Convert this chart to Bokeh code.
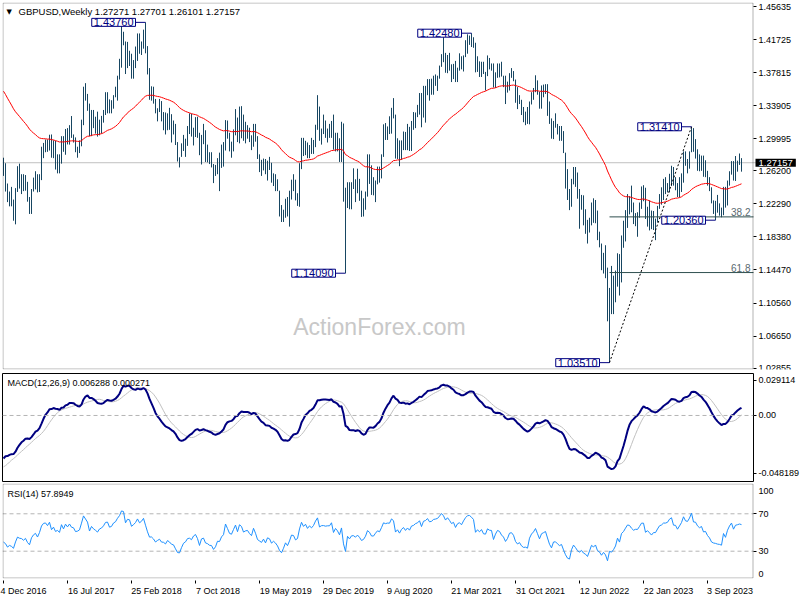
import numpy as np
import pandas as pd
from bokeh.plotting import figure
from bokeh.layouts import column
from bokeh.models import (Range1d, FixedTicker, Label, Span, ColumnDataSource, LinearAxis,
                          BoxAnnotation, AllLabels)
from bokeh.embed import file_html
from bokeh.resources import INLINE

# ---------------- data ----------------
# weekly closes before the visible window (used only to warm up indicators)
HIST_CLOSE_2015 = [1.5160, 1.5160, 1.4990, 1.5030,
                   1.5325, 1.5395, 1.5480, 1.5430,
                   1.5060, 1.4850, 1.4975, 1.4915, 1.4870,
                   1.4640, 1.4955, 1.5185, 1.5165,
                   1.5460, 1.5700, 1.5465, 1.5280,
                   1.5325, 1.5570, 1.5880, 1.5745,
                   1.5605, 1.5510, 1.5640, 1.5510, 1.5605,
                   1.5505, 1.5640, 1.5700, 1.5410,
                   1.5250, 1.5435, 1.5535, 1.5310, 1.5180,
                   1.5310, 1.5440, 1.5440, 1.5275, 1.5425,
                   1.5060, 1.5230, 1.5190, 1.5040,
                   1.5105, 1.4910, 1.4895, 1.4735]
HIST_CLOSE_2016 = [1.4600, 1.4260, 1.4265, 1.4250, 1.4500,
                   1.4500, 1.4400, 1.3880, 1.4235,
                   1.4235, 1.4460, 1.4140, 1.4365,
                   1.4120, 1.4205, 1.4395, 1.4615,
                   1.4430, 1.4375, 1.4500, 1.4660, 1.4390,
                   1.4255, 1.4385, 1.3680, 1.3275,
                   1.2950, 1.3220, 1.3105, 1.3225, 1.3070,
                   1.2960, 1.3075, 1.3165, 1.3310,
                   1.3270, 1.3070, 1.2970, 1.2965,
                   1.2430, 1.2195, 1.2200, 1.2190, 1.2485,
                   1.2590, 1.2385, 1.2420, 1.2580]

# visible weekly bars (high, low, close), first week starts 4 Dec 2016
BARS_2016 = [(1.2775, 1.2560, 1.2575), (1.2710, 1.2375, 1.2490), (1.2470, 1.2250, 1.2285),
             (1.2375, 1.2200, 1.2340)]
BARS_2017 = [(1.2430, 1.2200, 1.2284), (1.2280, 1.2030, 1.2175), (1.2415, 1.1987, 1.2375),
             (1.2675, 1.2370, 1.2545), (1.2705, 1.2410, 1.2495), (1.2580, 1.2345, 1.2480),
             (1.2580, 1.2380, 1.2410), (1.2570, 1.2385, 1.2465), (1.2490, 1.2255, 1.2295),
             (1.2310, 1.2110, 1.2190), (1.2405, 1.2110, 1.2400), (1.2540, 1.2375, 1.2500),
             (1.2615, 1.2400, 1.2550), (1.2580, 1.2365, 1.2415), (1.2580, 1.2370, 1.2565),
             (1.2905, 1.2510, 1.2825), (1.2950, 1.2770, 1.2945), (1.2990, 1.2840, 1.2965),
             (1.2990, 1.2845, 1.2885), (1.3047, 1.2860, 1.3030), (1.3050, 1.2775, 1.2790),
             (1.2980, 1.2770, 1.2895), (1.2975, 1.2635, 1.2745), (1.2815, 1.2590, 1.2785),
             (1.2815, 1.2590, 1.2715), (1.3030, 1.2705, 1.3025), (1.3030, 1.2845, 1.2880),
             (1.3115, 1.2810, 1.3095), (1.3125, 1.2932, 1.3000), (1.3160, 1.2930, 1.3135),
             (1.3268, 1.3010, 1.3025), (1.3050, 1.2955, 1.3005), (1.3015, 1.2840, 1.2875),
             (1.2905, 1.2775, 1.2890), (1.2980, 1.2830, 1.2935), (1.3225, 1.2910, 1.3200),
             (1.3615, 1.3160, 1.3590), (1.3657, 1.3450, 1.3495), (1.3530, 1.3330, 1.3395),
             (1.3415, 1.3030, 1.3065), (1.3340, 1.3030, 1.3285), (1.3340, 1.3125, 1.3190),
             (1.3260, 1.3060, 1.3130), (1.3320, 1.3025, 1.3060), (1.3225, 1.3040, 1.3190),
             (1.3270, 1.3060, 1.3230), (1.3340, 1.3190, 1.3325), (1.3550, 1.3280, 1.3480),
             (1.3550, 1.3300, 1.3495), (1.3465, 1.3300, 1.3340), (1.3455, 1.3300, 1.3370),
             (1.3515, 1.3355, 1.3510), (1.3615, 1.3490, 1.3565)]
BARS_2018 = [(1.3745, 1.3450, 1.3725), (1.3945, 1.3700, 1.3860), (1.4345, 1.3840, 1.4150),
             (1.4265, 1.4105, 1.4135), (1.4150, 1.3765, 1.3815), (1.4145, 1.3835, 1.4000),
             (1.4040, 1.3860, 1.3985), (1.4005, 1.3710, 1.3775), (1.3930, 1.3710, 1.3850),
             (1.4090, 1.3835, 1.3950), (1.4245, 1.3920, 1.4135), (1.4245, 1.4005, 1.4015),
             (1.4150, 1.3990, 1.4090), (1.4290, 1.4065, 1.4240), (1.4376, 1.4010, 1.4025),
             (1.4095, 1.3760, 1.3775), (1.3835, 1.3460, 1.3540), (1.3620, 1.3450, 1.3545),
             (1.3615, 1.3415, 1.3455), (1.3470, 1.3300, 1.3310), (1.3360, 1.3205, 1.3360),
             (1.3470, 1.3315, 1.3400), (1.3445, 1.3205, 1.3275), (1.3315, 1.3100, 1.3265),
             (1.3310, 1.3050, 1.3195), (1.3300, 1.3100, 1.3285), (1.3365, 1.3105, 1.3230),
             (1.3290, 1.2955, 1.3140), (1.3215, 1.3050, 1.3115), (1.3175, 1.2925, 1.2945),
             (1.2960, 1.2730, 1.2755), (1.2780, 1.2660, 1.2735), (1.2945, 1.2785, 1.2850),
             (1.3045, 1.2855, 1.2955), (1.3000, 1.2785, 1.2990), (1.3150, 1.2915, 1.3070),
             (1.3300, 1.3055, 1.3080), (1.3295, 1.3025, 1.3035), (1.3130, 1.2920, 1.3120),
             (1.3255, 1.3020, 1.3155), (1.3260, 1.3010, 1.3045), (1.3070, 1.2805, 1.2815),
             (1.3045, 1.2695, 1.2970), (1.3175, 1.2935, 1.2990), (1.3100, 1.2725, 1.2825),
             (1.2930, 1.2720, 1.2800), (1.2840, 1.2700, 1.2740), (1.2840, 1.2660, 1.2730),
             (1.2700, 1.2475, 1.2585), (1.2690, 1.2560, 1.2635), (1.2770, 1.2580, 1.2750),
             (1.2835, 1.2380, 1.2740)]
BARS_2019 = [(1.2930, 1.2655, 1.2840), (1.2960, 1.2670, 1.2890), (1.3220, 1.2860, 1.3190),
             (1.3215, 1.3000, 1.3075), (1.3070, 1.2850, 1.2940), (1.2965, 1.2775, 1.2915),
             (1.3110, 1.2850, 1.3050), (1.3350, 1.3040, 1.3195), (1.3250, 1.2960, 1.3010),
             (1.3380, 1.2945, 1.3260), (1.3385, 1.3005, 1.3210), (1.3285, 1.2975, 1.3035),
             (1.3200, 1.2945, 1.3075), (1.3160, 1.3000, 1.3090), (1.3130, 1.2960, 1.2995),
             (1.3040, 1.2865, 1.2930), (1.3175, 1.2905, 1.3160), (1.3175, 1.2965, 1.3005),
             (1.3030, 1.2760, 1.2770), (1.2815, 1.2605, 1.2710), (1.2750, 1.2560, 1.2650),
             (1.2765, 1.2625, 1.2740), (1.2760, 1.2580, 1.2590), (1.2740, 1.2505, 1.2735),
             (1.2785, 1.2630, 1.2700), (1.2715, 1.2480, 1.2525), (1.2590, 1.2440, 1.2575),
             (1.2580, 1.2380, 1.2505), (1.2520, 1.2380, 1.2385), (1.2385, 1.2080, 1.2165),
             (1.2215, 1.2015, 1.2030), (1.2160, 1.2015, 1.2140), (1.2290, 1.2065, 1.2285),
             (1.2310, 1.2080, 1.2155), (1.2385, 1.1960, 1.2290), (1.2515, 1.2280, 1.2475),
             (1.2580, 1.2380, 1.2460), (1.2515, 1.2270, 1.2290), (1.2355, 1.2205, 1.2330),
             (1.2710, 1.2195, 1.2665), (1.3010, 1.2640, 1.2975), (1.3010, 1.2795, 1.2830),
             (1.2975, 1.2805, 1.2935), (1.2955, 1.2770, 1.2785), (1.2925, 1.2770, 1.2900),
             (1.3010, 1.2820, 1.2830), (1.2985, 1.2820, 1.2935), (1.3165, 1.2900, 1.3150),
             (1.3515, 1.3105, 1.3330), (1.3380, 1.2975, 1.3010), (1.3120, 1.2930, 1.3075),
             (1.3285, 1.3055, 1.3080)]
BARS_2020 = [(1.3215, 1.3010, 1.3060), (1.3120, 1.2955, 1.3075), (1.3175, 1.3010, 1.3075),
             (1.3210, 1.3010, 1.3195), (1.3285, 1.2870, 1.2890), (1.3070, 1.2850, 1.3045),
             (1.3070, 1.2850, 1.2960), (1.3005, 1.2725, 1.2815), (1.3200, 1.2725, 1.3085),
             (1.3180, 1.2255, 1.2280), (1.2420, 1.1409, 1.1630), (1.2485, 1.2180, 1.2475),
             (1.2485, 1.2165, 1.2260), (1.2485, 1.2165, 1.2465), (1.2650, 1.2405, 1.2475),
             (1.2520, 1.2250, 1.2365), (1.2645, 1.2355, 1.2490), (1.2525, 1.2265, 1.2335),
             (1.2385, 1.2075, 1.2110), (1.2295, 1.2080, 1.2165), (1.2375, 1.2160, 1.2335),
             (1.2815, 1.2315, 1.2665), (1.2815, 1.2465, 1.2565), (1.2685, 1.2335, 1.2340),
             (1.2545, 1.2330, 1.2335), (1.2505, 1.2250, 1.2485), (1.2670, 1.2460, 1.2615),
             (1.2670, 1.2480, 1.2565), (1.2815, 1.2530, 1.2790), (1.3170, 1.2785, 1.3090),
             (1.3185, 1.2985, 1.3055), (1.3145, 1.2985, 1.3090), (1.3265, 1.3055, 1.3085),
             (1.3365, 1.3060, 1.3345), (1.3480, 1.3240, 1.3280), (1.3285, 1.2765, 1.2795),
             (1.3005, 1.2760, 1.2915), (1.2980, 1.2675, 1.2750), (1.2980, 1.2750, 1.2945),
             (1.3085, 1.2865, 1.3045), (1.3080, 1.2865, 1.2915), (1.3175, 1.2865, 1.3040),
             (1.3140, 1.2855, 1.2945), (1.3210, 1.2855, 1.3155), (1.3315, 1.3105, 1.3190),
             (1.3310, 1.3125, 1.3285), (1.3400, 1.3255, 1.3325), (1.3540, 1.3285, 1.3435),
             (1.3540, 1.3135, 1.3235), (1.3625, 1.3250, 1.3515), (1.3625, 1.3190, 1.3555),
             (1.3705, 1.3515, 1.3670)]
BARS_2021 = [(1.3705, 1.3450, 1.3565), (1.3710, 1.3520, 1.3590), (1.3745, 1.3520, 1.3685),
             (1.3760, 1.3625, 1.3705), (1.3745, 1.3565, 1.3735), (1.3865, 1.3710, 1.3850),
             (1.4000, 1.3850, 1.3990), (1.4240, 1.3905, 1.3935), (1.4015, 1.3780, 1.3830),
             (1.3990, 1.3775, 1.3935), (1.4015, 1.3805, 1.3870), (1.3880, 1.3670, 1.3790),
             (1.3885, 1.3705, 1.3835), (1.3920, 1.3670, 1.3705), (1.3840, 1.3670, 1.3835),
             (1.4010, 1.3805, 1.3875), (1.3975, 1.3820, 1.3825), (1.3985, 1.3795, 1.3965),
             (1.4165, 1.3965, 1.4095), (1.4235, 1.4005, 1.4185), (1.4220, 1.4110, 1.4195),
             (1.4248, 1.4085, 1.4160), (1.4200, 1.4075, 1.4115), (1.4135, 1.3785, 1.3805),
             (1.3975, 1.3790, 1.3880), (1.3915, 1.3730, 1.3825), (1.3910, 1.3730, 1.3890),
             (1.3910, 1.3765, 1.3775), (1.3790, 1.3570, 1.3765), (1.3985, 1.3740, 1.3910),
             (1.3955, 1.3820, 1.3875), (1.3890, 1.3805, 1.3870), (1.3890, 1.3605, 1.3620),
             (1.3785, 1.3600, 1.3760), (1.3890, 1.3720, 1.3865), (1.3890, 1.3725, 1.3840),
             (1.3910, 1.3735, 1.3740), (1.3745, 1.3610, 1.3680), (1.3745, 1.3410, 1.3540),
             (1.3675, 1.3545, 1.3610), (1.3775, 1.3570, 1.3745), (1.3835, 1.3720, 1.3760),
             (1.3800, 1.3680, 1.3690), (1.3700, 1.3425, 1.3500), (1.3610, 1.3350, 1.3410),
             (1.3515, 1.3410, 1.3440), (1.3460, 1.3280, 1.3325), (1.3375, 1.3195, 1.3265),
             (1.3320, 1.3160, 1.3270), (1.3375, 1.3175, 1.3235), (1.3440, 1.3170, 1.3435),
             (1.3550, 1.3405, 1.3535)]
BARS_2022 = [(1.3600, 1.3460, 1.3590), (1.3750, 1.3550, 1.3680), (1.3690, 1.3520, 1.3550),
             (1.3555, 1.3355, 1.3400), (1.3630, 1.3355, 1.3530), (1.3640, 1.3490, 1.3560),
             (1.3645, 1.3530, 1.3590), (1.3645, 1.3270, 1.3410), (1.3440, 1.3175, 1.3190),
             (1.3240, 1.3000, 1.3035), (1.3210, 1.2995, 1.3180), (1.3300, 1.3130, 1.3185),
             (1.3175, 1.3050, 1.3110), (1.3150, 1.2975, 1.3040), (1.3150, 1.2975, 1.3065),
             (1.3090, 1.2830, 1.2840), (1.2835, 1.2410, 1.2575), (1.2640, 1.2275, 1.2335),
             (1.2405, 1.2155, 1.2265), (1.2525, 1.2195, 1.2490), (1.2665, 1.2460, 1.2620),
             (1.2665, 1.2430, 1.2490), (1.2600, 1.2290, 1.2310), (1.2405, 1.1935, 1.2220),
             (1.2335, 1.2160, 1.2265), (1.2330, 1.1975, 1.2100), (1.2165, 1.1875, 1.2030),
             (1.2040, 1.1760, 1.1870), (1.2065, 1.1890, 1.2005), (1.2245, 1.1975, 1.2160),
             (1.2295, 1.2005, 1.2075), (1.2275, 1.2000, 1.2130), (1.2150, 1.1800, 1.1820),
             (1.1900, 1.1715, 1.1735), (1.1760, 1.1445, 1.1510), (1.1650, 1.1405, 1.1585),
             (1.1740, 1.1350, 1.1410), (1.1475, 1.0840, 1.0855), (1.1235, 1.0351, 1.1165),
             (1.1495, 1.0925, 1.1090), (1.1380, 1.0925, 1.1175), (1.1440, 1.1065, 1.1305),
             (1.1645, 1.1250, 1.1615), (1.1635, 1.1145, 1.1380), (1.1855, 1.1300, 1.1790),
             (1.2030, 1.1710, 1.1895), (1.2155, 1.1785, 1.2090), (1.2345, 1.1945, 1.2285),
             (1.2320, 1.2105, 1.2265), (1.2445, 1.2130, 1.2140), (1.2245, 1.1990, 1.2050),
             (1.2120, 1.1965, 1.2095)]
BARS_2023 = [(1.2130, 1.1840, 1.2090), (1.2245, 1.2065, 1.2230), (1.2435, 1.2170, 1.2395),
             (1.2450, 1.2260, 1.2395), (1.2420, 1.2050, 1.2050), (1.2195, 1.1960, 1.2120),
             (1.2270, 1.1915, 1.2035), (1.2150, 1.1930, 1.1940), (1.2145, 1.1920, 1.2035),
             (1.2055, 1.1800, 1.2035), (1.2205, 1.2010, 1.2170), (1.2345, 1.2170, 1.2300),
             (1.2425, 1.2220, 1.2335), (1.2525, 1.2275, 1.2415), (1.2545, 1.2345, 1.2415),
             (1.2475, 1.2365, 1.2445), (1.2585, 1.2365, 1.2570), (1.2680, 1.2440, 1.2630),
             (1.2665, 1.2445, 1.2450), (1.2545, 1.2390, 1.2445), (1.2475, 1.2310, 1.2345),
             (1.2545, 1.2305, 1.2450), (1.2590, 1.2370, 1.2570), (1.2850, 1.2480, 1.2815),
             (1.2850, 1.2680, 1.2715), (1.2760, 1.2590, 1.2700), (1.2850, 1.2645, 1.2840),
             (1.3141, 1.2840, 1.3090), (1.3125, 1.2845, 1.2855), (1.2995, 1.2765, 1.2850),
             (1.2875, 1.2620, 1.2745), (1.2815, 1.2615, 1.2690), (1.2800, 1.2620, 1.2735),
             (1.2800, 1.2550, 1.2575), (1.2745, 1.2545, 1.2590), (1.2620, 1.2445, 1.2465),
             (1.2545, 1.2380, 1.2385), (1.2425, 1.2235, 1.2240), (1.2270, 1.2110, 1.2200),
             (1.2265, 1.2036, 1.2185), (1.2335, 1.2125, 1.2160), (1.2235, 1.2090, 1.2150),
             (1.2185, 1.2070, 1.2125), (1.2430, 1.2095, 1.2380), (1.2430, 1.2185, 1.2270),
             (1.2505, 1.2210, 1.2465), (1.2615, 1.2445, 1.2605), (1.2735, 1.2575, 1.2710),
             (1.2735, 1.2505, 1.2545), (1.2795, 1.2500, 1.2685), (1.2740, 1.2610, 1.2705),
             (1.2825, 1.2690, 1.2730), (1.2770, 1.2610, 1.27157)]

DATE_TICKS = [0, 32, 64, 96, 128, 160, 192, 224, 256, 288, 320, 352]
DATE_LABELS = ["4 Dec 2016", "16 Jul 2017", "25 Feb 2018", "7 Oct 2018", "19 May 2019",
               "29 Dec 2019", "9 Aug 2020", "21 Mar 2021", "31 Oct 2021", "12 Jun 2022",
               "22 Jan 2023", "3 Sep 2023"]
PRICE_TICKS = [1.45635, 1.41725, 1.37815, 1.33905, 1.29995, 1.26200, 1.22290,
               1.18380, 1.14470, 1.10560, 1.06650, 1.02855]
MACD_TICKS = [0.029114, 0.0, -0.048189]
MACD_TICK_LABELS = ["0.029114", "0.00", "-0.048189"]
RSI_LEVELS = [70, 30]
# MT4 prints the 100 / 0 scale labels pulled inside the window
RSI_EDGE_LABELS = [(93.9, "100"), (6.1, "0")]
TITLE = "GBPUSD,Weekly  1.27271 1.27701 1.26101 1.27157"
LAST_PRICE = 1.27157
MACD_TITLE = "MACD(12,26,9) 0.006288 0.000271"
RSI_TITLE = "RSI(14) 57.8949"

# ---------------- derived series ----------------
bars = BARS_2016 + BARS_2017 + BARS_2018 + BARS_2019 + BARS_2020 + BARS_2021 + BARS_2022 + BARS_2023
HIGH = np.array([b[0] for b in bars])
LOW = np.array([b[1] for b in bars])
CLOSE = np.array([b[2] for b in bars])
N = len(bars)
X = np.arange(N)
hist = np.array(HIST_CLOSE_2015 + HIST_CLOSE_2016)
allc = np.concatenate([hist, CLOSE])
nh = len(hist)


def ema(x, n):
    a = 2.0 / (n + 1)
    out = np.empty_like(x)
    out[0] = x[0]
    for i in range(1, len(x)):
        out[i] = a * x[i] + (1 - a) * out[i - 1]
    return out


ema55 = ema(allc, 55)[nh:]
macd_all = ema(allc, 12) - ema(allc, 26)
sig_all = pd.Series(macd_all).rolling(9).mean().values
macd = macd_all[nh:]
sig = sig_all[nh:]

d = np.diff(allc, prepend=allc[0])
gain = np.clip(d, 0, None)
loss = np.clip(-d, 0, None)
ag = np.zeros(len(allc))
al = np.zeros(len(allc))
ag[14] = gain[1:15].mean()
al[14] = loss[1:15].mean()
for i in range(15, len(allc)):
    ag[i] = (ag[i - 1] * 13 + gain[i]) / 14
    al[i] = (al[i - 1] * 13 + loss[i]) / 14
rsi = (100 - 100 / (1 + ag / np.where(al == 0, 1e-9, al)))[nh:]

# ---------------- layout / styling ----------------
FONT = "Liberation Sans"
BAR_COLOR = "#174662"
PX_PER_BAR = 2
LEFT_W = 2
FRAME_W = 751
RIGHT_W = 47
X0 = -0.5
X_END = X0 + FRAME_W / PX_PER_BAR
x_range = Range1d(X0, X_END)
MAIN_H = 367
Y0, Y1 = 1.0270, 1.4611
MACD_H = 108
M0, M1 = -0.0549, 0.0349
RSI_H = 95
R0, R1 = 0.8, 102.4


def style_axis(ax, size="9px", standoff=2):
    ax.axis_line_color = None
    ax.major_tick_out = 3
    ax.major_tick_in = 0
    ax.major_tick_line_color = "black"
    ax.minor_tick_line_color = None
    ax.major_label_text_font = FONT
    ax.major_label_text_font_size = size
    ax.major_label_text_color = "black"
    ax.major_label_standoff = standoff
    ax.major_label_policy = AllLabels()


def sub_fig(frame_h, y_range, below=False, top=1, bottom=1, yaxis=True):
    p = figure(frame_width=FRAME_W, frame_height=frame_h, x_range=x_range, y_range=y_range,
               output_backend="svg", toolbar_location=None,
               y_axis_location="right" if yaxis else None,
               x_axis_location="below" if below else None,
               min_border_left=LEFT_W, min_border_right=RIGHT_W, min_border_top=top,
               min_border_bottom=bottom)
    p.grid.visible = False
    p.outline_line_color = "black"
    p.outline_line_width = 1
    p.background_fill_color = "white"
    p.border_fill_color = "white"
    return p


def wide_fig(frame_h, y0, y1, top, bottom):
    """window whose frame also covers the price-scale strip; the scale is drawn at X_END"""
    p = figure(frame_width=FRAME_W + RIGHT_W, frame_height=frame_h,
               x_range=Range1d(X0, X0 + (FRAME_W + RIGHT_W) / PX_PER_BAR),
               y_range=Range1d(y0, y1), output_backend="svg", toolbar_location=None,
               y_axis_location=None, x_axis_location=None, min_border_left=LEFT_W,
               min_border_right=0, min_border_top=top, min_border_bottom=bottom)
    p.grid.visible = False
    p.outline_line_color = None
    p.background_fill_color = "white"
    p.border_fill_color = "white"
    half = 0.5 * (y1 - y0) / frame_h
    p.add_layout(BoxAnnotation(left=X0 + 0.25, right=X_END - 0.25, top=y1 - half,
                               bottom=y0 + half, fill_color=None, line_color="black",
                               line_width=1))
    return p


# ---- main price panel ----
pm = wide_fig(MAIN_H, Y0, Y1, top=2, bottom=3)
yax = LinearAxis(fixed_location=X_END, ticker=FixedTicker(ticks=PRICE_TICKS))
style_axis(yax)
yax.major_label_overrides = {t: f"{t:.5f}" for t in PRICE_TICKS}
pm.add_layout(yax, "right")

pm.segment(x0=[X0], y0=[LAST_PRICE], x1=[X_END + 1.5], y1=[LAST_PRICE],
           line_color="#C0C0C0", line_width=1)

wm = Label(x=188, y=1.0767, text="ActionForex.com", text_font=FONT, text_font_size="23px",
           text_color="#C8C8C8", text_align="center", text_baseline="middle")
pm.add_layout(wm)

src = ColumnDataSource(dict(x=X, high=HIGH, low=LOW, ema=ema55))
pm.segment(x0="x", y0="low", x1="x", y1="high", source=src, line_color=BAR_COLOR, line_width=1)
pm.line("x", "ema", source=src, line_color="#FF0000", line_width=1)

# swing points
i_top1 = int(np.argmax(HIGH))
i_top2 = 150 + int(np.argmax(HIGH[150:300]))
i_top3 = 320 + int(np.argmax(HIGH[320:]))
i_low1 = int(np.argmin(LOW))
i_low2 = 100 + int(np.argmin(LOW[100:250]))
i_low3 = 340 + int(np.argmin(LOW[340:]))

# fibonacci retracements of the 1.0351 -> 1.3141 rise
lo, hi = LOW[i_low1], HIGH[i_top3]
for lvl, txt in [(0.382, "38.2"), (0.618, "61.8")]:
    yv = hi - lvl * (hi - lo)
    pm.segment(x0=[i_low1], y0=[yv], x1=[X_END], y1=[yv], line_color="#2F4F4F", line_width=1)
    pm.add_layout(Label(x=X_END, y=yv, text=txt, x_offset=-3, y_offset=1, text_align="right",
                        text_baseline="bottom", text_font=FONT, text_font_size="10px",
                        text_color="#5A6A70"))

pm.line([i_low1, i_top3], [lo, hi], line_color="black", line_dash="2 2", line_width=1)

for idx, price in [(i_top1, HIGH[i_top1]), (i_top2, HIGH[i_top2]), (i_top3, HIGH[i_top3]),
                   (i_low1, LOW[i_low1]), (i_low2, LOW[i_low2]), (i_low3, LOW[i_low3])]:
    pm.segment(x0=[idx - 5], y0=[price], x1=[idx], y1=[price], line_color="#000080", line_width=1)
    pm.add_layout(Label(x=idx - 5, y=price, text=f"{price:.5f}", text_align="right",
                        text_baseline="middle", text_font=FONT, text_font_size="11px",
                        text_color="#000080", background_fill_color="white",
                        border_line_color="#000080", border_line_width=1, padding=(2, 0)))

# current price box on the price scale
pm.add_layout(Label(x=X_END, y=LAST_PRICE, x_offset=2, text=f"{LAST_PRICE:.5f}", text_align="left",
                    text_baseline="middle", text_font=FONT, text_font_size="9.5px",
                    text_color="white", background_fill_color="black", padding=(3, 1)))

pm.add_layout(Label(x=4, y=MAIN_H - 9, x_units="screen", y_units="screen", text="\u25bc",
                    text_font="DejaVu Sans", text_font_size="7px", text_color="black",
                    text_baseline="middle"))
pm.add_layout(Label(x=16, y=MAIN_H - 9, x_units="screen", y_units="screen", text=TITLE,
                    text_font=FONT, text_font_size="9.5px", text_color="black",
                    text_baseline="middle"))

# ---- MACD panel ----
pd_ = sub_fig(MACD_H, Range1d(M0, M1), top=1, bottom=1)
style_axis(pd_.yaxis[0])
pd_.yaxis[0].ticker = FixedTicker(ticks=MACD_TICKS)
pd_.yaxis[0].major_label_overrides = dict(zip(MACD_TICKS, MACD_TICK_LABELS))
pd_.add_layout(Span(location=0, dimension="width", line_color="#B4B4B4", line_dash="4 3",
                    line_width=1))
msrc = ColumnDataSource(dict(x=X, macd=macd, sig=sig))
pd_.line("x", "sig", source=msrc, line_color="#C0C0C0", line_width=1)
pd_.line("x", "macd", source=msrc, line_color="#000080", line_width=2)
pd_.add_layout(Label(x=5, y=MACD_H - 9, x_units="screen", y_units="screen", text=MACD_TITLE,
                     text_font=FONT, text_font_size="9px", text_color="black",
                     text_baseline="middle"))

# ---- RSI panel ----
pr = wide_fig(RSI_H, R0, R1, top=1, bottom=1)
rax = LinearAxis(fixed_location=X_END, ticker=FixedTicker(ticks=RSI_LEVELS))
style_axis(rax)
pr.add_layout(rax, "right")
for yv, txt in RSI_EDGE_LABELS:
    pr.add_layout(Label(x=X_END, y=yv, x_offset=5, text=txt, text_align="left",
                        text_baseline="middle", text_font=FONT, text_font_size="9px",
                        text_color="black"))
for lv in RSI_LEVELS:
    pr.segment(x0=[X0], y0=[lv], x1=[X_END], y1=[lv], line_color="#B4B4B4", line_dash="4 3",
               line_width=1)
rsrc = ColumnDataSource(dict(x=X, rsi=rsi))
pr.line("x", "rsi", source=rsrc, line_color="#1E90FF", line_width=1)
pr.add_layout(Label(x=5, y=RSI_H - 10, x_units="screen", y_units="screen", text=RSI_TITLE,
                    text_font=FONT, text_font_size="9px", text_color="black",
                    text_baseline="middle"))

# ---- date scale strip under the RSI window ----
pt = sub_fig(1, Range1d(0, 1), below=True, top=0, bottom=20, yaxis=False)
pt.outline_line_color = None

# date labels are left-aligned at their tick (MT4 style): pad on the left with
# no-break spaces of the same width as the text, so the centred label starts at the tick
CW = {" ": 0.278, "D": 0.722, "J": 0.5, "F": 0.611, "O": 0.778, "M": 0.833, "A": 0.667,
      "S": 0.667, "e": 0.556, "c": 0.5, "u": 0.556, "l": 0.222, "b": 0.556, "a": 0.556,
      "r": 0.333, "p": 0.556, "o": 0.556, "t": 0.278, "n": 0.556, "g": 0.556, "y": 0.5}


def left_pad(s):
    w = sum(CW.get(ch, 0.556) for ch in s)
    return "\u00a0" * int(round(w / 0.278)) + s


xa = pt.xaxis[0]
style_axis(xa, standoff=2)
xa.major_tick_out = 3
xa.ticker = FixedTicker(ticks=DATE_TICKS)
xa.major_label_overrides = {t: (s if t == 0 else left_pad(s)) for t, s in zip(DATE_TICKS, DATE_LABELS)}

layout = column(pm, pd_, pr, pt, spacing=0)
open("out.html", "w").write(file_html(layout, INLINE))
